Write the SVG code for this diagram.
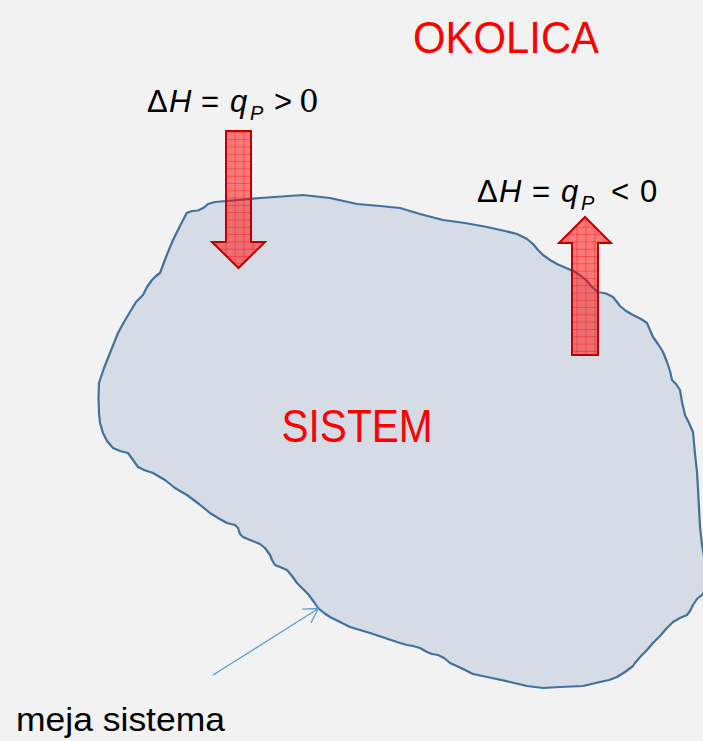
<svg xmlns="http://www.w3.org/2000/svg" width="703" height="741" viewBox="0 0 703 741">
  <style>
    .red { fill: #ff0000; font-family: "Liberation Sans", Arial, sans-serif; }
    .eq { fill: #000000; font-family: "Liberation Sans", Arial, sans-serif; font-size: 31px; }
    .it { font-style: italic; }
    .sub { font-style: italic; font-size: 20px; }
    .heat { fill: url(#grid); stroke: #c00000; stroke-width: 2; stroke-linejoin: miter; }
    .conn { stroke: #5b9bd5; stroke-width: 1.3; fill: none; }
  </style>
  <defs>
    <pattern id="grid" width="9" height="7.3" patternUnits="userSpaceOnUse" x="0.5" y="0.5">
      <rect width="9" height="7.3" fill="#ff0000" fill-opacity="0.5"/>
      <path d="M0,0 H9 M0,0 V7.3" stroke="#ff0000" stroke-opacity="0.75" stroke-width="1"/>
    </pattern>
    <marker id="open" markerUnits="userSpaceOnUse" markerWidth="20" markerHeight="20" viewBox="-16 -10 20 20" refX="0" refY="0" orient="auto">
      <path d="M-14,-8 L0,0 L-14,8" fill="none" stroke="#5b9bd5" stroke-width="1.3"/>
    </marker>
  </defs>

  <rect id="background" x="0" y="0" width="703" height="741" fill="#f2f2f2"/>

  <g id="sistem">
    <path d="M186.7,213 L192,211 L198,210.5 L204,207.5 L208,204 L215,202 L227,201 L260,198 L303,195 L330,198 L357,204 L380,206 L400,208 L420,214 L443,220 L465,223 L487,227 L505,231 L517,234 L527,239 L533,244 L538,250 L543,255 L550,260 L557,264 L565,267.5 L573,271 L580,275 L587,281 L592,287 L598,292 L606,293.5 L613,297 L617,302 L620,306 L626,311 L633,315 L641,319 L647,323 L650,330 L653,337 L658,344 L663,352 L665,357 L667,362 L670,371 L672,380 L676,384 L680,390 L682,402 L685,415 L689,423 L693,432 L694,443 L695,454 L697,472 L698,489 L699,508 L700,527 L702,545 L704,556 L712,575 L703,594 L697,599 L693,605 L690,611 L687,615 L680,618 L673,622 L666,629 L660,636 L653,643 L647,650 L641,656 L635,663 L633,666 L625,672 L617,677 L609,680 L600,682 L583,686 L560,687 L543,688 L527,686 L510,682 L492,678 L473,674 L461,668 L450,663 L444,658 L438,655 L432,654 L427,652 L420,648 L413,646 L407,645 L400,643 L385,638 L370,633 L360,630 L350,627 L340,622 L330,617 L324,613 L318,608 L314,602 L308,594 L302,588 L297,583 L292,576 L287,570 L280,567 L275,565 L272,560 L270,555 L265,548 L260,544 L250,540 L243,537 L240,534 L238,528 L235,525 L227,523 L218,518 L210,513 L199,504 L187,495 L180,491 L175,488 L165,480 L153,473 L144,470 L138,467 L133,460 L128,453 L120,451 L113,448 L107,441 L103,433 L100,423 L99,413 L98.5,398 L99,383 L104,368 L110,353 L114,343 L118,333 L124,322 L130,312 L136,302 L143,295 L147,287 L152,280 L156,276 L160,273 L166,257 L173,240 L180,226 L186.7,213 Z" fill="#d6dce5" stroke="#41719c" stroke-width="2.2" stroke-linejoin="round"/>
    <text class="red" x="281.5" y="441.5" font-size="46" textLength="151" lengthAdjust="spacingAndGlyphs">SISTEM</text>
  </g>

  <g id="okolica">
    <text class="red" x="413" y="52.5" font-size="45" textLength="186" lengthAdjust="spacingAndGlyphs">OKOLICA</text>
  </g>

  <g id="heat-in">
    <path class="heat" d="M226,131 H251 V242 H265 L238.5,268 L212,242 H226 Z"/>
    <text class="eq" y="111.5"><tspan x="147">Δ</tspan><tspan x="169" class="it">H</tspan><tspan x="201">=</tspan><tspan x="230" class="it">q</tspan><tspan x="250" y="119.5" class="sub">P</tspan><tspan x="274" y="111.5">&gt;</tspan><tspan x="299" font-family="DejaVu Serif, serif" font-size="31">0</tspan></text>
  </g>

  <g id="heat-out">
    <path class="heat" d="M572,355 H598 V243 H611 L585,217 L559,243 H572 Z"/>
    <text class="eq" y="201.5"><tspan x="477">Δ</tspan><tspan x="499" class="it">H</tspan><tspan x="532">=</tspan><tspan x="561" class="it">q</tspan><tspan x="581" y="209.5" class="sub">P</tspan><tspan x="611" y="201.5">&lt;</tspan><tspan x="640">0</tspan></text>
  </g>

  <g id="meja-label">
    <text x="16" y="731" font-family="Liberation Sans, Arial, sans-serif" font-size="34" fill="#000000" textLength="209" lengthAdjust="spacingAndGlyphs">meja sistema</text>
  </g>

  <g id="connectors">
    <line class="conn" x1="213" y1="675" x2="318.5" y2="608.5" marker-end="url(#open)"/>
  </g>
</svg>
